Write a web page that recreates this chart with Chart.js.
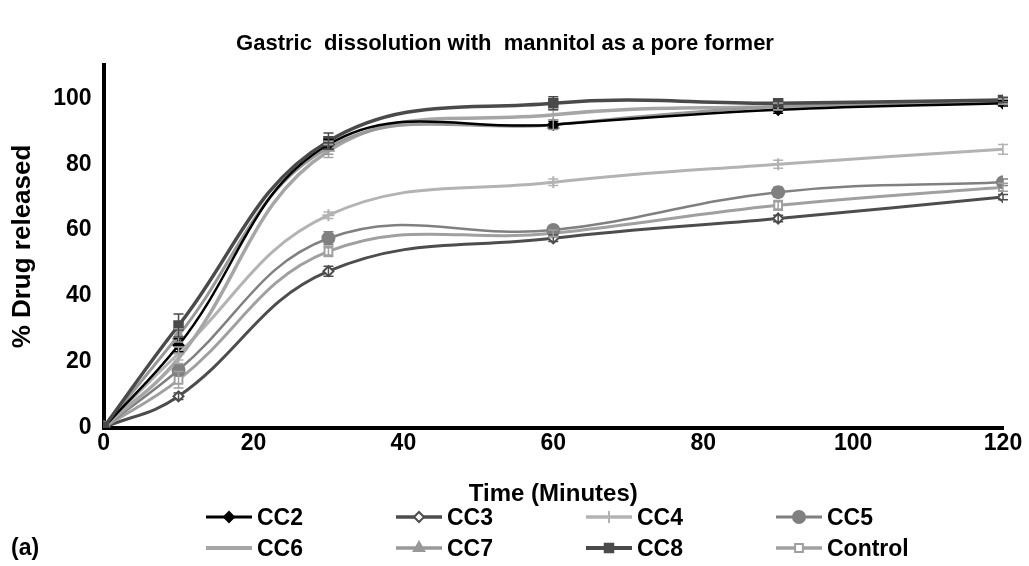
<!DOCTYPE html>
<html>
<head>
<meta charset="utf-8">
<script src="https://cdn.jsdelivr.net/npm/chart.js@4.4.1/dist/chart.umd.min.js"></script>
<style>
  body { margin: 0; background: #fff; font-family: Arial, "Liberation Sans", sans-serif; }
  #wrap { position: relative; width: 1029px; height: 566px; }
  .leg { position: absolute; display: flex; align-items: center; font-weight: bold; font-size: 23px; color: #000; height: 30px; }
  .leg canvas { margin-right: 3px; }
  #lbl { position: absolute; left: 11px; top: 534px; font-weight: bold; font-size: 23px; }
</style>
</head>
<body>
<div id="wrap">
  <canvas id="chart" width="1029" height="566"></canvas>
  <div id="legend"></div>
  <div id="lbl">(a)</div>
</div>
<script>
// === Données ===
const times = [0, 10, 30, 60, 90, 120];

const cc2 = [0, 25, 86, 92, 96.5, 98.5];
const cc3 = [0, 9.5, 47.5, 57.5, 63.5, 70];
const cc4 = [0, 22.5, 64.5, 74.5, 80, 84.5];
const cc5 = [0, 17.5, 57.5, 60, 71.5, 74.5];
const cc6 = [0, 21, 84, 95, 97.5, 99];
const cc7 = [0, 28, 85, 92, 97.5, 99];
const cc8 = [0, 31, 87, 98.5, 98.5, 99.5];
const control = [0, 14.5, 53.5, 59, 67.5, 73];

// écarts-types (barres d'erreur)
const errCC2 = [0, 2, 1.5, 1, 1, 0.8];
const errCC3 = [0, 1, 1.5, 1, 1, 0.8];
const errCC4 = [0, 2, 1, 1, 1.2, 1.5];
const errCC5 = [0, 1.5, 2, 1, 1.5, 1];
const errCC6 = [0, 1.5, 2, 1.5, 1, 0.8];
const errCC7 = [0, 2, 2, 1.5, 1, 0.8];
const errCC8 = [0, 3.5, 2.5, 2, 1, 0.8];
const errControl = [0, 2.5, 1.5, 1, 1.5, 1.2];

const yTicks = [0, 20, 40, 60, 80, 100];

function pts(arr) {
    return times.map((t, i) => ({ x: t, y: arr[i] }));
}

const series = [
    { label: 'CC2', data: cc2, err: errCC2, color: '#000000', style: 'rectRot', fill: '#000000', r: 5, w: 2.5 },
    { label: 'CC3', data: cc3, err: errCC3, color: '#4d4d4d', style: 'rectRot', fill: '#ffffff', r: 5, w: 3 },
    { label: 'CC4', data: cc4, err: errCC4, color: '#b3b3b3', style: 'cross', fill: '#b3b3b3', r: 6, w: 3 },
    { label: 'CC5', data: cc5, err: errCC5, color: '#808080', style: 'circle', fill: '#808080', r: 6, w: 2.5 },
    { label: 'CC6', data: cc6, err: errCC6, color: '#a6a6a6', style: 'line', fill: '#a6a6a6', r: 0, w: 3.5 },
    { label: 'CC7', data: cc7, err: errCC7, color: '#999999', style: 'triangle', fill: '#999999', r: 6, w: 3 },
    { label: 'CC8', data: cc8, err: errCC8, color: '#4a4a4a', style: 'rect', fill: '#4a4a4a', r: 6, w: 3.5 },
    { label: 'Control', data: control, err: errControl, color: '#a0a0a0', style: 'rect', fill: '#ffffff', r: 5.5, w: 3 }
];

// === Barres d'erreur ===
const errorBars = {
    id: 'errorBars',
    afterDatasetsDraw(chart) {
        const c = chart.ctx;
        const xs = chart.scales.x, ys = chart.scales.y;
        chart.data.datasets.forEach((ds, di) => {
            const e = series[di].err;
            c.save();
            c.strokeStyle = ds.borderColor;
            c.lineWidth = 1.5;
            ds.data.forEach((p, i) => {
                if (!e[i]) return;
                const px = xs.getPixelForValue(p.x);
                const top = ys.getPixelForValue(p.y + e[i]);
                const bot = ys.getPixelForValue(p.y - e[i]);
                c.beginPath();
                c.moveTo(px, top); c.lineTo(px, bot);
                c.moveTo(px - 5, top); c.lineTo(px + 5, top);
                c.moveTo(px - 5, bot); c.lineTo(px + 5, bot);
                c.stroke();
            });
            c.restore();
        });
    }
};

const font = { family: 'Arial, "Liberation Sans", sans-serif', weight: 'bold' };

// ordre de dessin : CC8 au-dessus
const order = { CC8: 0, CC2: 1, CC7: 2, CC6: 3, CC4: 4, CC5: 5, Control: 6, CC3: 7 };

new Chart(document.getElementById('chart'), {
    type: 'line',
    data: {
        datasets: series.map(s => ({
            label: s.label,
            data: pts(s.data),
            borderColor: s.color,
            backgroundColor: s.fill,
            borderWidth: s.w,
            pointStyle: s.style,
            pointRadius: s.r,
            pointBorderColor: s.color,
            pointBackgroundColor: s.fill,
            pointBorderWidth: 2,
            tension: 0.4,
            order: order[s.label]
        }))
    },
    options: {
        responsive: false,
        animation: false,
        layout: { padding: { left: 7, right: 26, top: 0, bottom: 57 } },
        plugins: {
            legend: { display: false },
            tooltip: { enabled: false },
            title: {
                display: true,
                text: 'Gastric  dissolution with  mannitol as a pore former',
                color: '#000',
                font: { ...font, size: 22 },
                padding: { top: 31, bottom: 8 }
            }
        },
        scales: {
            x: {
                type: 'linear',
                min: 0, max: 120,
                ticks: { stepSize: 20, color: '#000', font: { ...font, size: 23 }, padding: 2 },
                grid: { display: false, drawTicks: false },
                border: { display: true, color: '#000', width: 4 },
                title: { display: true, text: 'Time (Minutes)', color: '#000', font: { ...font, size: 24 }, padding: { top: 21, bottom: 0 } }
            },
            y: {
                min: 0, max: 110,
                afterBuildTicks: axis => { axis.ticks = yTicks.map(v => ({ value: v })); },
                ticks: { color: '#000', font: { ...font, size: 23 }, padding: 12 },
                grid: { display: false, drawTicks: false },
                border: { display: true, color: '#000', width: 4 },
                title: { display: true, text: '% Drug released', color: '#000', font: { ...font, size: 26 }, padding: { top: 0, bottom: 3 } }
            }
        }
    },
    plugins: [errorBars]
});

// === Légende ===
const legend = document.getElementById('legend');
series.forEach((s, i) => {
    const col = i % 4, row = Math.floor(i / 4);
    const item = document.createElement('div');
    item.className = 'leg';
    item.style.left = (204 + col * 190) + 'px';
    item.style.top = (502 + row * 31) + 'px';
    const cv = document.createElement('canvas');
    cv.width = 50; cv.height = 24;
    const c = cv.getContext('2d');
    c.strokeStyle = s.color; c.lineWidth = s.w + 0.5;
    c.beginPath(); c.moveTo(2, 12); c.lineTo(48, 12); c.stroke();
    if (s.r > 0) {
        c.fillStyle = s.fill; c.strokeStyle = s.color; c.lineWidth = 2;
        Chart.helpers.drawPoint(c, { pointStyle: s.style, radius: s.r, borderWidth: 2, rotation: 0 }, 25, 12);
    }
    item.appendChild(cv);
    const t = document.createElement('span');
    t.textContent = s.label;
    item.appendChild(t);
    legend.appendChild(item);
});
</script>
</body>
</html>
